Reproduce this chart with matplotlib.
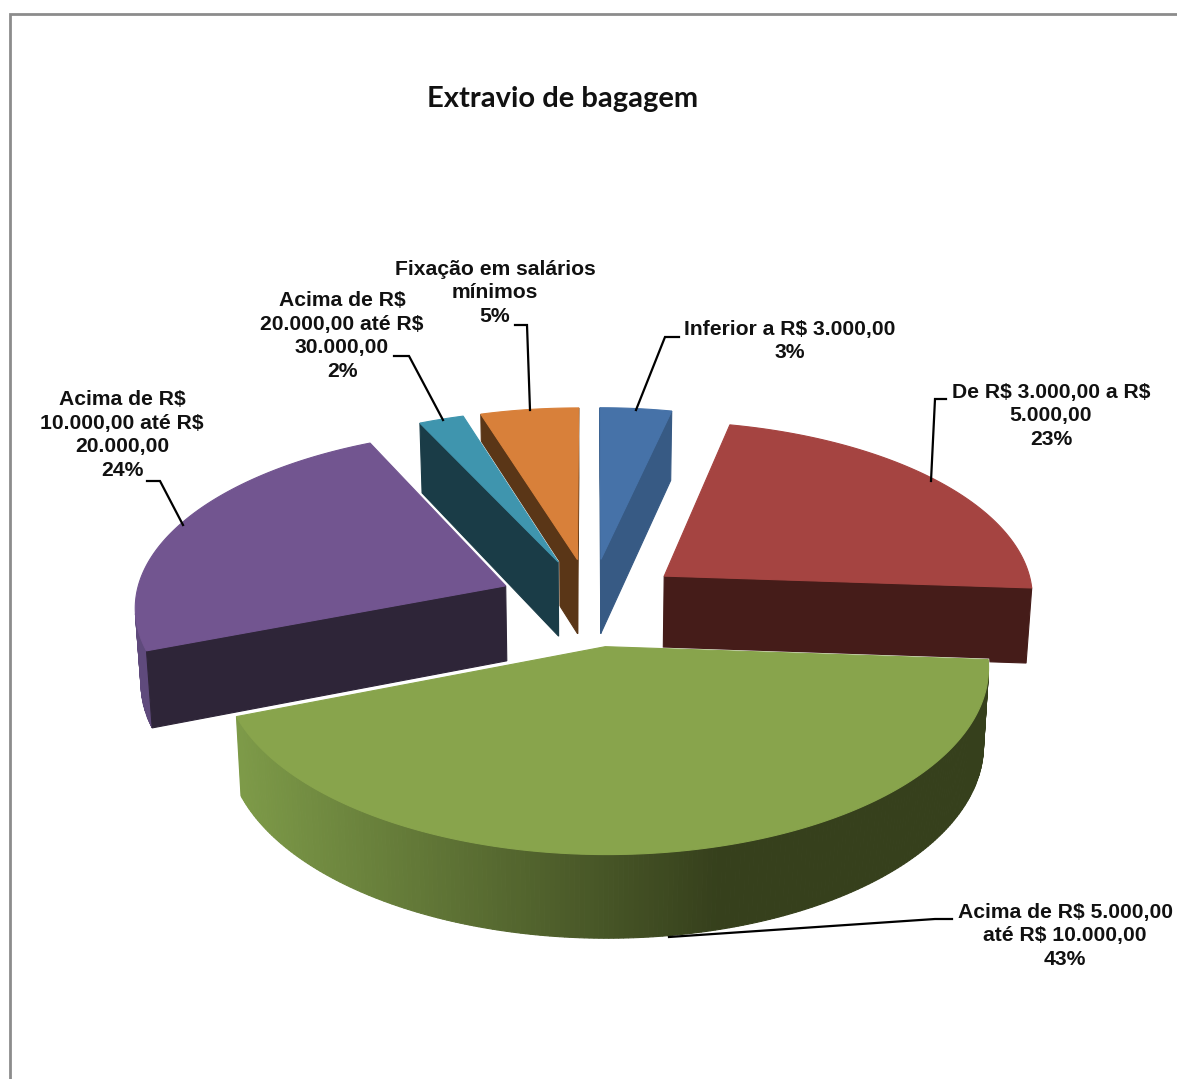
"""Extravio de bagagem: exploded 3D pie drawn with a small perspective projection."""

import numpy as np
import matplotlib
matplotlib.use("Agg")
import matplotlib.pyplot as plt
from matplotlib.colors import to_rgb

# Data, clockwise from 12 o'clock
categories = [
    "Inferior a R$ 3.000,00",
    "De R$ 3.000,00 a R$\n5.000,00",
    "Acima de R$ 5.000,00\naté R$ 10.000,00",
    "Acima de R$\n10.000,00 até R$\n20.000,00",
    "Acima de R$\n20.000,00 até R$\n30.000,00",
    "Fixação em salários\nmínimos",
]
# printed labels are rounded, shares estimated from the drawn slices
percent_labels = [3, 23, 43, 24, 2, 5]
values = [3.5, 22.6, 43.0, 23.9, 2.2, 4.8]
top_colors = ["#4672A8", "#A54441", "#88A44C", "#725590", "#3F95AE", "#D8803A"]
side_colors = ["#375A84", "#451C19", "#36401C", "#2E2538", "#1A3C47", "#5A3617"]
wall_colors = ["#375A84", "#5A2422", "#36401C", "#5F4A7C", "#1A3C47", "#5A3617"]
title = "Extravio de bagagem"

# label anchor (px), leader polyline (px)
label_pos = [(790, 341), (1051, 416), (1065, 936), (122, 435), (342, 336), (495, 293)]
leaders = [
    [(636, 410), (665, 337), (679, 337)],
    [(931, 481), (935, 399), (946, 399)],
    [(669, 937), (935, 919), (952, 919)],
    [(183, 525), (160, 481), (147, 481)],
    [(443, 420), (409, 356), (394, 356)],
    [(530, 410), (527, 325), (515, 325)],
]

# Projection fitted to the picture
CX, CY = 591, 602
A, B, DEPTH = 371, 176, 76.5
PERSP, PERSP_Z = 0.105, 0.013
EXPLODE = 0.25


def project(x, y, bottom=False):
    w = 1 + PERSP * y
    if bottom:
        w = w * (1 + PERSP_Z)
    sx = CX + A * x / w
    sy = CY - B * y / w + (DEPTH / w if bottom else 0)
    return sx, sy


def outward_area(poly):
    p = np.array(poly)
    x, y = p[:, 0], p[:, 1]
    return 0.5 * np.sum(x * np.roll(y, -1) - np.roll(x, -1) * y)


def mix(c1, c2, t):
    c1, c2 = np.array(to_rgb(c1)), np.array(to_rgb(c2))
    return tuple(c1 + (c2 - c1) * t)


def slice_faces(start, end, top, side, wall, gradient=False):
    mid = (start + end) / 2
    ox, oy = EXPLODE * np.sin(mid), EXPLODE * np.cos(mid)
    ts = np.linspace(start, end, max(int(np.degrees(end - start) * 1.5), 4))
    xs, ys = ox + np.sin(ts), oy + np.cos(ts)

    faces = []
    apex_t, apex_b = project(ox, oy), project(ox, oy, True)
    # outer wall, a visible quad has positive area
    for i in range(len(ts) - 1):
        a_t, b_t = project(xs[i], ys[i]), project(xs[i + 1], ys[i + 1])
        a_b, b_b = project(xs[i], ys[i], True), project(xs[i + 1], ys[i + 1], True)
        poly = [a_t, a_b, b_b, b_t]
        if outward_area(poly) > 0:
            color = wall
            if gradient:
                t = np.clip((a_t[0] - 240) / 480, 0, 1)
                color = mix("#7D9A48", "#36401C", t)
            faces.append((poly, color))
    # cut faces, wound the other way round
    s_t, s_b = project(xs[0], ys[0]), project(xs[0], ys[0], True)
    e_t, e_b = project(xs[-1], ys[-1]), project(xs[-1], ys[-1], True)
    for poly in ([apex_t, s_t, s_b, apex_b], [apex_t, apex_b, e_b, e_t]):
        if outward_area(poly) < 0:
            faces.append((poly, side))
    faces.append(([project(ox, oy)] + [project(x, y) for x, y in zip(xs, ys)], top))
    return faces


fig = plt.figure(figsize=(11.77, 10.79), dpi=100)
ax = fig.add_axes([0, 0, 1, 1])
ax.set_xlim(0, 1177)
ax.set_ylim(1079, 0)
ax.axis("off")

# Chart frame, cropped at the right and bottom
ax.plot([10, 10, 1177], [1079, 13.5, 13.5], color="#8C8C8C", lw=2, solid_joinstyle="miter")

# Slice boundaries from the values
angles = np.radians(np.cumsum([0] + values) / sum(values) * 360)
draw_order = [0, 5, 4, 1, 3, 2]

for z, i in enumerate(draw_order):
    faces = slice_faces(angles[i], angles[i + 1], top_colors[i], side_colors[i],
                        wall_colors[i], gradient=(i == 2))
    for poly, _ in faces:
        ax.fill(*zip(*poly), facecolor="none", edgecolor="white", lw=1.4, zorder=2 + z * 2)
    for poly, color in faces:
        ax.fill(*zip(*poly), facecolor=color, edgecolor=color, lw=0.8, zorder=3 + z * 2)

# Leader lines and data labels
for i, cat in enumerate(categories):
    ax.plot(*zip(*leaders[i]), color="black", lw=1.6, zorder=30, solid_joinstyle="miter")
    ax.text(label_pos[i][0], label_pos[i][1], f"{cat}\n{percent_labels[i]}%", ha="center", va="center",
            family="Liberation Sans", fontweight="bold", fontsize=15.2, linespacing=1.31,
            color="#111111", zorder=31, parse_math=False)

ax.text(563, 99, title, ha="center", va="center", family="Lato", fontweight="bold",
        fontsize=21, color="#111111")

fig.savefig("out.png", dpi=100)
